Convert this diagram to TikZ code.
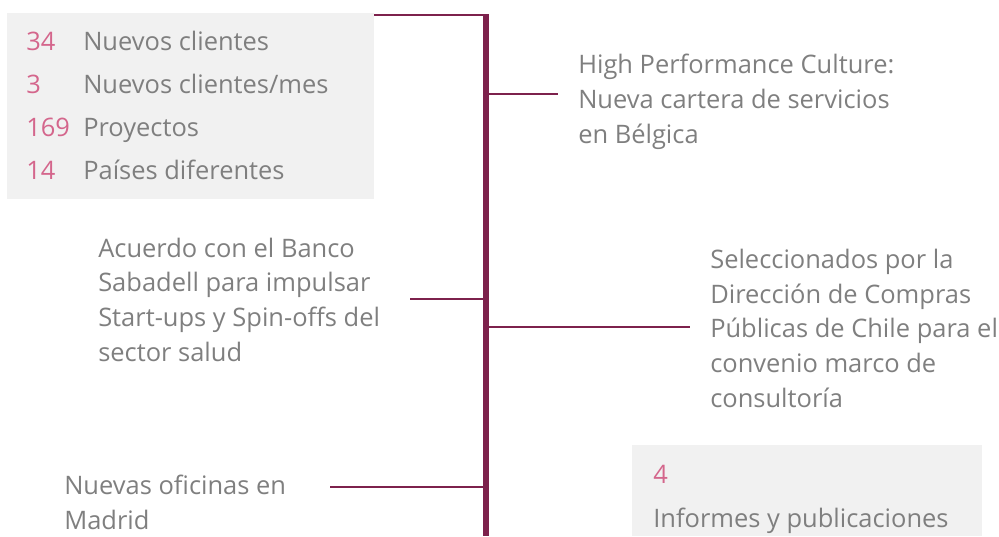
\documentclass[tikz,border=0pt]{standalone}
\usepackage{fontspec}
\setmainfont{Open Sans}
\usetikzlibrary{positioning}

\definecolor{linemaroon}{RGB}{125,33,76}
\definecolor{numpink}{RGB}{212,102,140}
\definecolor{textgray}{RGB}{127,127,127}
\definecolor{boxgray}{RGB}{241,241,241}

\tikzset{
  txt/.style={anchor=base west, inner sep=0pt, align=left, text=textgray,
    font=\fontsize{19.1pt}{26pt}\selectfont},
  num/.style={txt, text=numpink},
  branch/.style={draw=linemaroon, line width=1.5pt},
}

\begin{document}
\begin{tikzpicture}[x=0.75pt, y=-0.75pt]
  \useasboundingbox (0,0) rectangle (999,536);

  % grey boxes
  \fill[boxgray] (7,13) rectangle (374,199);
  \fill[boxgray] (632,445) rectangle (982,536);

  % key figures
  \node[num] (n1) at (26,50)  {34};
  \node[txt] (l1) at (83,50)  {Nuevos clientes};
  \node[num] (n2) at (26,93)  {3};
  \node[txt] (l2) at (83,93)  {Nuevos clientes/mes};
  \node[num] (n3) at (26,136) {169};
  \node[txt] (l3) at (83,136) {Proyectos};
  \node[num] (n4) at (26,179) {14};
  \node[txt] (l4) at (83,179) {Países diferentes};

  \node[num] (n5) at (653,483) {4};
  \node[txt] (l5) at (653,527) {Informes y publicaciones};

  % milestones (base = last line)
  \node[txt] (m1) at (578,143) {High Performance Culture:\\Nueva cartera de servicios\\en Bélgica};
  \node[txt] (m2) at (98,361)  {Acuerdo con el Banco\\Sabadell para impulsar\\Start-ups y Spin-offs del\\sector salud};
  \node[txt] (m3) at (710,407) {Seleccionados por la\\Dirección de Compras\\Públicas de Chile para el\\convenio marco de\\consultoría};
  \node[txt] (m4) at (64,529)  {Nuevas oficinas en\\Madrid};

  % timeline
  \coordinate (top) at (486,14);
  \coordinate (bot) at (486,536);
  \coordinate (box) at (374,15);
  \coordinate (j1) at (486,94);   \coordinate (e1) at (558,94);
  \coordinate (j2) at (486,299);  \coordinate (e2) at (410,299);
  \coordinate (j3) at (486,327);  \coordinate (e3) at (690,327);
  \coordinate (j4) at (486,487);  \coordinate (e4) at (330,487);

  \draw[branch, line width=1.9pt] (box) -- (j1 |- box);
  \draw[branch] (j1) -- (e1);
  \draw[branch] (j2) -- (e2);
  \draw[branch] (j3) -- (e3);
  \draw[branch] (j4) -- (e4);
  \draw[draw=linemaroon, line width=4.5pt] (top) -- (bot);
\end{tikzpicture}
\end{document}
